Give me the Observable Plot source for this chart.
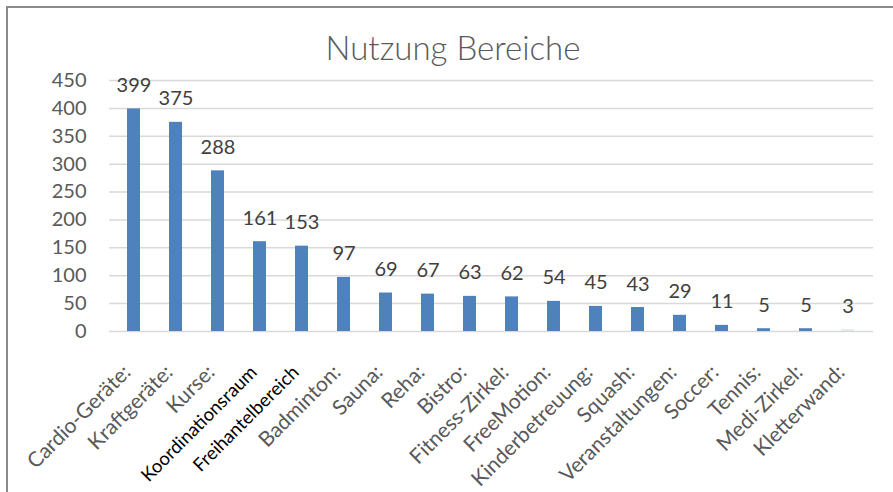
<!DOCTYPE html>
<html>
<head>
<meta charset="utf-8">
<script src="https://cdn.jsdelivr.net/npm/d3@7"></script>
<script src="https://cdn.jsdelivr.net/npm/@observablehq/plot@0.6"></script>
<style>
  html, body { margin: 0; padding: 0; background: #fff; }
  #wrap { position: relative; width: 893px; height: 492px; overflow: hidden; font-family: Lato, "Open Sans", sans-serif; }
  #border { position: absolute; left: 6px; top: 6px; width: 900px; height: 500px; border-left: 2px solid #8a8a8a; border-top: 2px solid #8a8a8a; }
  #title { position: absolute; left: 0; width: 906px; top: 27px; text-align: center; font-size: 33px; font-weight: 300; color: #595959; font-family: Lato, sans-serif; }
  #chart { position: absolute; left: 0; top: 0; }
</style>
</head>
<body>
<div id="wrap">
  <div id="chart"></div>
  <div id="border"></div>
  <div id="title">Nutzung Bereiche</div>
</div>
<script>
const categories = ["Cardio-Geräte:", "Kraftgeräte:", "Kurse:", "Koordinationsraum", "Freihantelbereich", "Badminton:", "Sauna:", "Reha:", "Bistro:", "Fitness-Zirkel:", "FreeMotion:", "Kinderbetreuung:", "Squash:", "Veranstaltungen:", "Soccer:", "Tennis:", "Medi-Zirkel:", "Kletterwand:"];
const values = [399, 375, 288, 161, 153, 97, 69, 67, 63, 62, 54, 45, 43, 29, 11, 5, 5, 3];
const yTicks = [0, 50, 100, 150, 200, 250, 300, 350, 400, 450];

const data = categories.map((name, i) => ({name, value: values[i]}));
const darkLabels = new Set(["Koordinationsraum", "Freihantelbereich"]);

const plot = Plot.plot({
  width: 893,
  height: 492,
  marginLeft: 109,
  marginRight: 20,
  marginTop: 80,
  marginBottom: 161,
  style: {fontFamily: "Lato, sans-serif", background: "transparent", overflow: "visible"},
  x: {domain: categories, paddingInner: 0.68, paddingOuter: 0.34, axis: null},
  y: {domain: [0, 450], axis: null},
  marks: [
    Plot.ruleY(yTicks, {stroke: "#d9d9d9", strokeWidth: 1.5}),
    Plot.barY(data, {x: "name", y: "value", fill: d => d.name === "Kletterwand:" ? "#dce6f1" : "#4f81bd"}),
    Plot.axisY({ticks: yTicks, tickSize: 0, tickPadding: 23, fontSize: 20, color: "#595959", label: null, tickFormat: d => String(d)}),
    Plot.text(data, {x: "name", y: "value", text: d => String(d.value), lineAnchor: "bottom", dy: -17, fontSize: 20, fill: "#404040"}),
    Plot.text(data.filter(d => !darkLabels.has(d.name)), {x: "name", text: "name", frameAnchor: "bottom", rotate: -45, textAnchor: "end", lineAnchor: "bottom", dx: -2, dy: 42, fontSize: 21, fill: "#595959"}),
    Plot.text(data.filter(d => darkLabels.has(d.name)), {x: "name", text: "name", frameAnchor: "bottom", rotate: -45, textAnchor: "end", lineAnchor: "bottom", dx: -2, dy: 42, fontSize: 18.5, fill: "#000000"})
  ]
});
document.getElementById("chart").appendChild(plot);
</script>
</body>
</html>
